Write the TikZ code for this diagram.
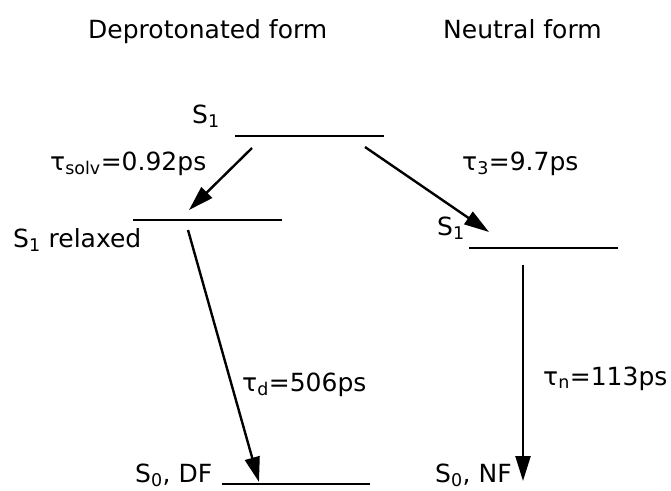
\documentclass[tikz,border=0pt]{standalone}
\usepackage{fontspec}
\setmainfont{DejaVu Sans}
\usetikzlibrary{arrows.meta}

\begin{document}
\begin{tikzpicture}[x=1pt,y=-1pt,
    level/.style={line width=2.6pt},
    decay/.style={line width=2.4pt,-{Triangle[length=25pt,width=15pt]}},
    lbl/.style={anchor=base west,inner sep=0pt,font=\fontsize{25}{30}\selectfont}]
    \useasboundingbox (0,0) rectangle (671,490);

    % titles
    \node[lbl] (dep-title) at (88,38) {Deprotonated form};
    \node[lbl] (neu-title) at (443,38) {Neutral form};

    % energy levels
    \draw[level] (235,136) coordinate (s1-l) -- (384,136) coordinate (s1-r);
    \draw[level] (133,220) coordinate (rel-l) -- (282,220) coordinate (rel-r);
    \draw[level] (469,248) coordinate (nf1-l) -- (618,248) coordinate (nf1-r);
    \draw[level] (222,484) coordinate (df0-l) -- (370,484) coordinate (df0-r);

    % level labels
    \node[lbl] (s1-lab) at (192,123) {S\textsubscript{1}};
    \node[lbl] (rel-lab) at (13,247) {S\textsubscript{1} relaxed};
    \node[lbl] (nf1-lab) at (437,235) {S\textsubscript{1}};
    \node[lbl] (df0-lab) at (135,482) {S\textsubscript{0}, DF};
    \node[lbl] (nf0-lab) at (435,482) {S\textsubscript{0}, NF};

    % decay arrows
    \coordinate (solv-a) at (252,148);
    \coordinate (solv-b) at (189,210);
    \coordinate (t3-a) at (365,147);
    \coordinate (t3-b) at (489,232);
    \coordinate (td-a) at (188,230);
    \coordinate (td-b) at (259,482);
    \coordinate (tn-a) at (523,265);
    \coordinate (tn-b) at (523,481);
    \draw[decay] (solv-a) -- (solv-b);
    \draw[decay] (t3-a) -- (t3-b);
    \draw[decay] (td-a) -- (td-b);
    \draw[decay] (tn-a) -- (tn-b);

    % rate labels
    \node[lbl] (solv-lab) at (50,170) {τ\textsubscript{solv}=0.92ps};
    \node[lbl] (t3-lab) at (462,170) {τ\textsubscript{3}=9.7ps};
    \node[lbl] (td-lab) at (242,391) {τ\textsubscript{d}=506ps};
    \node[lbl] (tn-lab) at (543,385) {τ\textsubscript{n}=113ps};
\end{tikzpicture}
\end{document}
